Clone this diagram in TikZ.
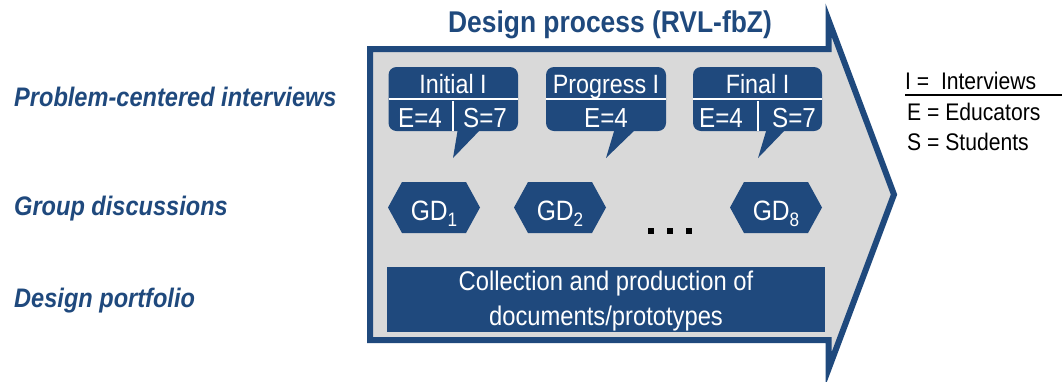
\documentclass[tikz,border=0pt]{standalone}
\usepackage{fontspec}
\setmainfont{Liberation Sans}[FakeStretch=0.88]
\definecolor{dblue}{RGB}{31,73,125}
\definecolor{lgray}{RGB}{217,217,217}
\newcommand{\fsz}[1]{\fontsize{#1}{#1}\selectfont}
\begin{document}
\begin{tikzpicture}[x=1pt,y=-1pt,
  txt/.style={inner sep=0pt, outer sep=0pt, anchor=base},
  wtxt/.style={txt, text=white, font=\fsz{26.5}},
  wtxtb/.style={txt, text=white, font=\fsz{27.5}},
  rowlabel/.style={inner sep=0pt, anchor=base west, text=dblue, font=\fsz{26.8}\bfseries\itshape},
  bubble/.style={fill=dblue, rounded corners=8pt},
  divider/.style={draw=white, line width=1.8pt},
  hexbox/.style={fill=dblue},
  gdtxt/.style={txt, text=white, font=\fsz{28}},
  legend/.style={inner sep=0pt, anchor=base west, text=black, font=\fsz{24}}]
\useasboundingbox (0,0) rectangle (1062,381);

% big arrow
\draw[dblue, line width=6pt, fill=lgray, line join=miter]
  (370,49) -- (828.5,49) -- (828.5,20) -- (894,194.5) -- (828.5,369) -- (828.5,340) -- (370,340) -- cycle;

% title
\node[txt, text=dblue, font=\fsz{30}\bfseries] (title) at (610,32) {Design process (RVL-fbZ)};

% row labels
\node[rowlabel] (lpci) at (14,106) {Problem-centered interviews};
\node[rowlabel] (lgd) at (14,215) {Group discussions};
\node[rowlabel] (ldp) at (14,307) {Design portfolio};

% bubble 1
\fill[bubble] (388.5,67) rectangle (518,131);
\fill[dblue] (458,128) -- (453,158) -- (482,128) -- cycle;
\draw[divider] (388.5,99) -- (518,99);
\draw[divider] (453,101) -- (453,131);
\node[wtxt] (b1t) at (453,93) {Initial I};
\node[wtxtb] (b1e) at (420,127) {E=4};
\node[wtxtb] (b1s) at (485,127) {S=7};

% bubble 2
\fill[bubble] (546,67) rectangle (666,131);
\fill[dblue] (615,128) -- (606,158) -- (637,128) -- cycle;
\draw[divider] (546,99) -- (666,99);
\node[wtxt] (b2t) at (606,93) {Progress I};
\node[wtxtb] (b2e) at (606,127) {E=4};

% bubble 3
\fill[bubble] (693,67) rectangle (822,131);
\fill[dblue] (767,128) -- (758,158) -- (787,128) -- cycle;
\draw[divider] (693,99) -- (822,99);
\draw[divider] (758,101) -- (758,131);
\node[wtxt] (b3t) at (757.5,93) {Final I};
\node[wtxtb] (b3e) at (721,127) {E=4};
\node[wtxtb] (b3s) at (794,127) {S=7};

% hexagons
\foreach \xl/\nm/\sub in {388/gd1/1, 514/gd2/2, 730/gd8/8}{
  \fill[hexbox] (\xl,207.5) -- ({\xl+14},182) -- ({\xl+78},182) -- ({\xl+92},207.5) -- ({\xl+78},233) -- ({\xl+14},233) -- cycle;
  \node[gdtxt] (\nm) at ({\xl+46},220) {GD\raisebox{-6pt}{\fsz{19.5}\sub}};
}

% dots
\foreach \dx in {651,670,689}{
  \fill[black] ({\dx-2.6},228.4) rectangle ({\dx+2.6},233.6);
}

% collection box
\fill[dblue] (387,267) rectangle (825,332);
\node[inner sep=0pt, text=white, align=center, font=\fsz{27}, anchor=center] (coll) at (606,301)
  {Collection and production of\\[8pt]documents/prototypes};

% legend
\node[legend] (li) at (905,89) {I =~~Interviews};
\node[legend] (le) at (907,120) {E = Educators};
\node[legend] (ls) at (907,150) {S = Students};
\coordinate (ul1) at (905,95);
\coordinate (ul2) at (1062,95);
\draw[black, line width=1.8pt] (ul1) -- (ul2);
\end{tikzpicture}
\end{document}
